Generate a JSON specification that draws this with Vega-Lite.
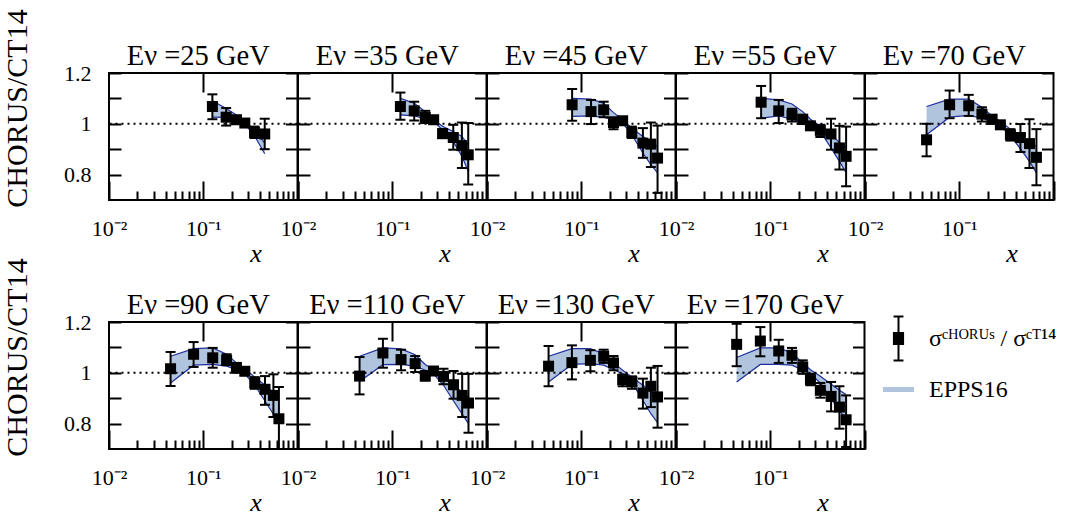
{
  "$schema": "https://vega.github.io/schema/vega-lite/v6.json",
  "padding": {"left": 2, "top": 9, "right": 0, "bottom": 0},
  "background": "white",
  "config": {
    "font": "Liberation Serif",
    "view": {"stroke": "black", "strokeWidth": 2},
    "axis": {"domain": false, "grid": false, "tickColor": "black", "tickWidth": 2, "labelFont": "Liberation Serif", "labelFontSize": 22, "labelColor": "black", "titleFont": "Liberation Serif", "titleFontWeight": "normal", "titleColor": "black", "labelFlush": false, "labelOverlap": false},
    "title": {"font": "Liberation Serif", "fontSize": 28.5, "fontWeight": "normal", "color": "black", "offset": 2, "baseline": "alphabetic", "frame": "group", "anchor": "middle", "dx": -5},
    "legend": {"labelFont": "Liberation Serif"}
  },
  "data": {"values": [
    {"E": 25, "x": 0.125, "y": 1.068, "el": 1.018, "eh": 1.116, "bl": 1.026, "bh": 1.091},
    {"E": 25, "x": 0.175, "y": 1.026, "el": 0.993, "eh": 1.062, "bl": 1.025, "bh": 1.060},
    {"E": 25, "x": 0.225, "y": 1.016, "el": 1.0, "eh": 1.031, "bl": 1.014, "bh": 1.035},
    {"E": 25, "x": 0.276, "y": 1.003, "el": 0.995, "eh": 1.011, "bl": 0.999, "bh": 1.009},
    {"E": 25, "x": 0.35, "y": 0.966, "el": 0.944, "eh": 0.989, "bl": 0.953, "bh": 0.976},
    {"E": 25, "x": 0.449, "y": 0.96, "el": 0.90, "eh": 1.02, "bl": 0.882, "bh": 0.924},

    {"E": 35, "x": 0.122, "y": 1.068, "el": 1.016, "eh": 1.123, "bl": 1.035, "bh": 1.10},
    {"E": 35, "x": 0.171, "y": 1.051, "el": 1.013, "eh": 1.087, "bl": 1.031, "bh": 1.081},
    {"E": 35, "x": 0.224, "y": 1.025, "el": 1.003, "eh": 1.051, "bl": 1.02, "bh": 1.048},
    {"E": 35, "x": 0.275, "y": 1.016, "el": 1.006, "eh": 1.026, "bl": 1.009, "bh": 1.016},
    {"E": 35, "x": 0.342, "y": 0.961, "el": 0.944, "eh": 0.979, "bl": 0.976, "bh": 0.99},
    {"E": 35, "x": 0.444, "y": 0.946, "el": 0.898, "eh": 0.996, "bl": 0.93, "bh": 0.97},
    {"E": 35, "x": 0.548, "y": 0.914, "el": 0.826, "eh": 1.005, "bl": 0.872, "bh": 0.95},
    {"E": 35, "x": 0.64, "y": 0.878, "el": 0.761, "eh": 1.003, "bl": 0.813, "bh": 0.918},

    {"E": 45, "x": 0.08, "y": 1.075, "el": 1.012, "eh": 1.137, "bl": 1.029, "bh": 1.10},
    {"E": 45, "x": 0.127, "y": 1.048, "el": 0.999, "eh": 1.094, "bl": 1.031, "bh": 1.097},
    {"E": 45, "x": 0.173, "y": 1.055, "el": 1.026, "eh": 1.087, "bl": 1.025, "bh": 1.081},
    {"E": 45, "x": 0.22, "y": 1.005, "el": 0.979, "eh": 1.026, "bl": 1.016, "bh": 1.044},
    {"E": 45, "x": 0.275, "y": 1.012, "el": 1.002, "eh": 1.022, "bl": 1.003, "bh": 1.016},
    {"E": 45, "x": 0.344, "y": 0.966, "el": 0.944, "eh": 0.989, "bl": 0.957, "bh": 0.983},
    {"E": 45, "x": 0.451, "y": 0.924, "el": 0.866, "eh": 0.983, "bl": 0.885, "bh": 0.95},
    {"E": 45, "x": 0.548, "y": 0.92, "el": 0.83, "eh": 1.005, "bl": 0.839, "bh": 0.93},
    {"E": 45, "x": 0.645, "y": 0.865, "el": 0.728, "eh": 0.993, "bl": 0.807, "bh": 0.911},

    {"E": 55, "x": 0.08, "y": 1.085, "el": 1.022, "eh": 1.149, "bl": 1.022, "bh": 1.10},
    {"E": 55, "x": 0.123, "y": 1.051, "el": 1.003, "eh": 1.094, "bl": 1.031, "bh": 1.094},
    {"E": 55, "x": 0.17, "y": 1.035, "el": 1.009, "eh": 1.059, "bl": 1.018, "bh": 1.078},
    {"E": 55, "x": 0.221, "y": 1.018, "el": 0.999, "eh": 1.035, "bl": 1.005, "bh": 1.048},
    {"E": 55, "x": 0.267, "y": 0.992, "el": 0.984, "eh": 1.0, "bl": 0.996, "bh": 1.018},
    {"E": 55, "x": 0.34, "y": 0.974, "el": 0.948, "eh": 0.996, "bl": 0.97, "bh": 0.989},
    {"E": 55, "x": 0.441, "y": 0.96, "el": 0.898, "eh": 1.02, "bl": 0.905, "bh": 0.957},
    {"E": 55, "x": 0.542, "y": 0.905, "el": 0.82, "eh": 0.992, "bl": 0.852, "bh": 0.927},
    {"E": 55, "x": 0.638, "y": 0.872, "el": 0.754, "eh": 0.989, "bl": 0.807, "bh": 0.905},

    {"E": 70, "x": 0.045, "y": 0.937, "el": 0.872, "eh": 1.0, "bl": 0.957, "bh": 1.068},
    {"E": 70, "x": 0.079, "y": 1.075, "el": 1.022, "eh": 1.131, "bl": 1.026, "bh": 1.097},
    {"E": 70, "x": 0.126, "y": 1.071, "el": 1.031, "eh": 1.114, "bl": 1.033, "bh": 1.097},
    {"E": 70, "x": 0.174, "y": 1.038, "el": 1.009, "eh": 1.065, "bl": 1.022, "bh": 1.065},
    {"E": 70, "x": 0.223, "y": 1.018, "el": 1.0, "eh": 1.035, "bl": 1.009, "bh": 1.031},
    {"E": 70, "x": 0.273, "y": 0.996, "el": 0.988, "eh": 1.004, "bl": 0.993, "bh": 1.009},
    {"E": 70, "x": 0.349, "y": 0.957, "el": 0.934, "eh": 0.979, "bl": 0.953, "bh": 0.979},
    {"E": 70, "x": 0.446, "y": 0.946, "el": 0.889, "eh": 0.999, "bl": 0.901, "bh": 0.953},
    {"E": 70, "x": 0.556, "y": 0.922, "el": 0.826, "eh": 1.018, "bl": 0.852, "bh": 0.93},
    {"E": 70, "x": 0.659, "y": 0.868, "el": 0.758, "eh": 0.979, "bl": 0.807, "bh": 0.911},

    {"E": 90, "x": 0.045, "y": 1.016, "el": 0.948, "eh": 1.082, "bl": 0.96, "bh": 1.065},
    {"E": 90, "x": 0.079, "y": 1.073, "el": 1.023, "eh": 1.121, "bl": 1.03, "bh": 1.095},
    {"E": 90, "x": 0.126, "y": 1.059, "el": 1.02, "eh": 1.098, "bl": 1.033, "bh": 1.098},
    {"E": 90, "x": 0.177, "y": 1.049, "el": 1.03, "eh": 1.073, "bl": 1.026, "bh": 1.073},
    {"E": 90, "x": 0.225, "y": 1.02, "el": 1.0, "eh": 1.039, "bl": 1.012, "bh": 1.039},
    {"E": 90, "x": 0.276, "y": 1.006, "el": 0.998, "eh": 1.014, "bl": 0.996, "bh": 1.016},
    {"E": 90, "x": 0.352, "y": 0.96, "el": 0.937, "eh": 0.983, "bl": 0.951, "bh": 0.983},
    {"E": 90, "x": 0.452, "y": 0.935, "el": 0.874, "eh": 0.987, "bl": 0.889, "bh": 0.951},
    {"E": 90, "x": 0.555, "y": 0.911, "el": 0.826, "eh": 0.994, "bl": 0.837, "bh": 0.924},
    {"E": 90, "x": 0.635, "y": 0.819, "el": 0.70, "eh": 0.944, "bl": 0.80, "bh": 0.902},

    {"E": 110, "x": 0.045, "y": 0.987, "el": 0.915, "eh": 1.062, "bl": 0.966, "bh": 1.065},
    {"E": 110, "x": 0.0796, "y": 1.078, "el": 1.02, "eh": 1.134, "bl": 1.032, "bh": 1.098},
    {"E": 110, "x": 0.124, "y": 1.052, "el": 1.01, "eh": 1.091, "bl": 1.033, "bh": 1.094},
    {"E": 110, "x": 0.175, "y": 1.036, "el": 1.003, "eh": 1.066, "bl": 1.026, "bh": 1.071},
    {"E": 110, "x": 0.224, "y": 0.987, "el": 0.97, "eh": 1.007, "bl": 1.01, "bh": 1.033},
    {"E": 110, "x": 0.274, "y": 1.007, "el": 0.998, "eh": 1.016, "bl": 0.996, "bh": 1.012},
    {"E": 110, "x": 0.35, "y": 0.986, "el": 0.955, "eh": 1.016, "bl": 0.951, "bh": 0.983},
    {"E": 110, "x": 0.447, "y": 0.953, "el": 0.898, "eh": 1.007, "bl": 0.889, "bh": 0.951},
    {"E": 110, "x": 0.552, "y": 0.911, "el": 0.826, "eh": 0.996, "bl": 0.837, "bh": 0.924},
    {"E": 110, "x": 0.644, "y": 0.881, "el": 0.764, "eh": 0.996, "bl": 0.80, "bh": 0.903},

    {"E": 130, "x": 0.045, "y": 1.026, "el": 0.947, "eh": 1.106, "bl": 0.964, "bh": 1.065},
    {"E": 130, "x": 0.0796, "y": 1.04, "el": 0.974, "eh": 1.108, "bl": 1.033, "bh": 1.095},
    {"E": 130, "x": 0.125, "y": 1.049, "el": 1.006, "eh": 1.089, "bl": 1.036, "bh": 1.095},
    {"E": 130, "x": 0.173, "y": 1.065, "el": 1.039, "eh": 1.091, "bl": 1.03, "bh": 1.075},
    {"E": 130, "x": 0.22, "y": 1.039, "el": 1.01, "eh": 1.066, "bl": 1.012, "bh": 1.039},
    {"E": 130, "x": 0.275, "y": 0.973, "el": 0.947, "eh": 0.993, "bl": 0.996, "bh": 1.01},
    {"E": 130, "x": 0.345, "y": 0.964, "el": 0.937, "eh": 0.986, "bl": 0.96, "bh": 0.983},
    {"E": 130, "x": 0.451, "y": 0.92, "el": 0.859, "eh": 0.977, "bl": 0.892, "bh": 0.951},
    {"E": 130, "x": 0.548, "y": 0.947, "el": 0.865, "eh": 1.02, "bl": 0.839, "bh": 0.927},
    {"E": 130, "x": 0.645, "y": 0.905, "el": 0.784, "eh": 1.027, "bl": 0.804, "bh": 0.905},

    {"E": 170, "x": 0.044, "y": 1.112, "el": 1.026, "eh": 1.193, "bl": 0.964, "bh": 1.06},
    {"E": 170, "x": 0.0785, "y": 1.125, "el": 1.065, "eh": 1.18, "bl": 1.033, "bh": 1.098},
    {"E": 170, "x": 0.123, "y": 1.086, "el": 1.039, "eh": 1.13, "bl": 1.033, "bh": 1.098},
    {"E": 170, "x": 0.17, "y": 1.069, "el": 1.039, "eh": 1.098, "bl": 1.03, "bh": 1.078},
    {"E": 170, "x": 0.221, "y": 1.023, "el": 0.996, "eh": 1.049, "bl": 1.01, "bh": 1.039},
    {"E": 170, "x": 0.267, "y": 0.973, "el": 0.951, "eh": 0.996, "bl": 0.996, "bh": 1.012},
    {"E": 170, "x": 0.34, "y": 0.931, "el": 0.902, "eh": 0.96, "bl": 0.96, "bh": 0.986},
    {"E": 170, "x": 0.442, "y": 0.907, "el": 0.848, "eh": 0.964, "bl": 0.898, "bh": 0.955},
    {"E": 170, "x": 0.542, "y": 0.865, "el": 0.78, "eh": 0.947, "bl": 0.852, "bh": 0.931},
    {"E": 170, "x": 0.638, "y": 0.815, "el": 0.708, "eh": 0.911, "bl": 0.815, "bh": 0.915}
  ]},
  "spacing": -9,
  "resolve": {"scale": {"color": "independent", "shape": "independent"}},
  "vconcat": [
    {"title": {"text": "CHORUS/CT14", "orient": "left", "anchor": "middle", "fontSize": 30, "offset": 30, "dx": -35.5, "dy": 0},
     "hconcat": [
      {"width": 188.5, "height": 127, "title": {"text": "Eν =25 GeV", "dy": 10}, "transform": [{"filter": "datum.E == 25"}], "resolve": {"axis": {"x": "independent", "y": "independent"}},
       "layer": [
        {"mark": {"type": "area", "color": "#b0c4de", "opacity": 1}, "encoding": {"x": {"field": "x", "type": "quantitative", "scale": {"type": "log", "domain": [0.01, 1]}, "axis": {"orient": "bottom", "values": [0.01, 0.1, 1], "tickSize": -19, "labelExpr": "datum.value < 0.05 ? '10⁻²' : datum.value < 0.5 ? '10⁻¹' : ''", "labelPadding": 37, "title": "x", "titleFontStyle": "italic", "titleFontSize": 26, "titleX": 146.5, "titleY": 61, "titleBaseline": "alphabetic", "titleAlign": "center"}}, "y": {"field": "bl", "type": "quantitative", "scale": {"domain": [0.7, 1.2]}, "axis": {"orient": "left", "values": [0.8, 0.9, 1, 1.1, 1.2], "tickSize": -12, "labelExpr": "datum.value == 0.8 ? '0.8' : datum.value == 1 ? '1' : datum.value == 1.2 ? '1.2' : ''", "labelPadding": 30, "title": null}}, "y2": {"field": "bh"}}},
        {"mark": {"type": "line", "color": "#1f2f9e", "strokeWidth": 1.2}, "encoding": {"x": {"field": "x", "type": "quantitative", "axis": {"orient": "bottom", "values": [0.02, 0.03, 0.04, 0.05, 0.06, 0.07, 0.08, 0.09, 0.2, 0.3, 0.4, 0.5, 0.6, 0.7, 0.8, 0.9], "tickSize": -9, "labels": false, "title": null}}, "y": {"field": "bl", "type": "quantitative", "axis": {"orient": "right", "values": [0.8, 0.9, 1, 1.1, 1.2], "tickSize": -12, "labels": false, "title": null}}}},
        {"mark": {"type": "line", "color": "#1f2f9e", "strokeWidth": 1.2}, "encoding": {"x": {"field": "x", "type": "quantitative", "axis": {"orient": "top", "values": [0.1], "tickSize": -19, "labels": false, "title": null}}, "y": {"field": "bh", "type": "quantitative", "axis": null}}},
        {"data": {"values": [{"ref": 1}]}, "mark": {"type": "rule", "color": "black", "strokeWidth": 2, "strokeDash": [2, 4]}, "encoding": {"y": {"field": "ref", "type": "quantitative", "axis": null}}},
        {"mark": {"type": "rule", "color": "black", "strokeWidth": 2}, "encoding": {"x": {"field": "x", "type": "quantitative", "axis": null}, "y": {"field": "el", "type": "quantitative", "axis": null}, "y2": {"field": "eh"}}},
        {"mark": {"type": "tick", "orient": "horizontal", "color": "black", "size": 10, "thickness": 2, "opacity": 1}, "encoding": {"x": {"field": "x", "type": "quantitative", "axis": null}, "y": {"field": "el", "type": "quantitative", "axis": null}}},
        {"mark": {"type": "tick", "orient": "horizontal", "color": "black", "size": 10, "thickness": 2, "opacity": 1}, "encoding": {"x": {"field": "x", "type": "quantitative", "axis": null}, "y": {"field": "eh", "type": "quantitative", "axis": null}}},
        {"mark": {"type": "square", "color": "black", "size": 121, "opacity": 1}, "encoding": {"x": {"field": "x", "type": "quantitative", "axis": null}, "y": {"field": "y", "type": "quantitative", "axis": null}}}
       ]},
      {"width": 188.5, "height": 127, "title": "Eν =35 GeV", "transform": [{"filter": "datum.E == 35"}], "resolve": {"axis": {"x": "independent", "y": "independent"}},
       "layer": [
        {"mark": {"type": "area", "color": "#b0c4de", "opacity": 1}, "encoding": {"x": {"field": "x", "type": "quantitative", "scale": {"type": "log", "domain": [0.01, 1]}, "axis": {"orient": "bottom", "values": [0.01, 0.1, 1], "tickSize": -19, "labelExpr": "datum.value < 0.05 ? '10⁻²' : datum.value < 0.5 ? '10⁻¹' : ''", "labelPadding": 37, "title": "x", "titleFontStyle": "italic", "titleFontSize": 26, "titleX": 146.5, "titleY": 61, "titleBaseline": "alphabetic", "titleAlign": "center"}}, "y": {"field": "bl", "type": "quantitative", "scale": {"domain": [0.7, 1.2]}, "axis": {"orient": "left", "values": [0.8, 0.9, 1, 1.1, 1.2], "tickSize": -12, "labels": false, "title": null}}, "y2": {"field": "bh"}}},
        {"mark": {"type": "line", "color": "#1f2f9e", "strokeWidth": 1.2}, "encoding": {"x": {"field": "x", "type": "quantitative", "axis": {"orient": "bottom", "values": [0.02, 0.03, 0.04, 0.05, 0.06, 0.07, 0.08, 0.09, 0.2, 0.3, 0.4, 0.5, 0.6, 0.7, 0.8, 0.9], "tickSize": -9, "labels": false, "title": null}}, "y": {"field": "bl", "type": "quantitative", "axis": {"orient": "right", "values": [0.8, 0.9, 1, 1.1, 1.2], "tickSize": -12, "labels": false, "title": null}}}},
        {"mark": {"type": "line", "color": "#1f2f9e", "strokeWidth": 1.2}, "encoding": {"x": {"field": "x", "type": "quantitative", "axis": {"orient": "top", "values": [0.1], "tickSize": -19, "labels": false, "title": null}}, "y": {"field": "bh", "type": "quantitative", "axis": null}}},
        {"data": {"values": [{"ref": 1}]}, "mark": {"type": "rule", "color": "black", "strokeWidth": 2, "strokeDash": [2, 4]}, "encoding": {"y": {"field": "ref", "type": "quantitative", "axis": null}}},
        {"mark": {"type": "rule", "color": "black", "strokeWidth": 2}, "encoding": {"x": {"field": "x", "type": "quantitative", "axis": null}, "y": {"field": "el", "type": "quantitative", "axis": null}, "y2": {"field": "eh"}}},
        {"mark": {"type": "tick", "orient": "horizontal", "color": "black", "size": 10, "thickness": 2, "opacity": 1}, "encoding": {"x": {"field": "x", "type": "quantitative", "axis": null}, "y": {"field": "el", "type": "quantitative", "axis": null}}},
        {"mark": {"type": "tick", "orient": "horizontal", "color": "black", "size": 10, "thickness": 2, "opacity": 1}, "encoding": {"x": {"field": "x", "type": "quantitative", "axis": null}, "y": {"field": "eh", "type": "quantitative", "axis": null}}},
        {"mark": {"type": "square", "color": "black", "size": 121, "opacity": 1}, "encoding": {"x": {"field": "x", "type": "quantitative", "axis": null}, "y": {"field": "y", "type": "quantitative", "axis": null}}}
       ]},
      {"width": 188.5, "height": 127, "title": "Eν =45 GeV", "transform": [{"filter": "datum.E == 45"}], "resolve": {"axis": {"x": "independent", "y": "independent"}},
       "layer": [
        {"mark": {"type": "area", "color": "#b0c4de", "opacity": 1}, "encoding": {"x": {"field": "x", "type": "quantitative", "scale": {"type": "log", "domain": [0.01, 1]}, "axis": {"orient": "bottom", "values": [0.01, 0.1, 1], "tickSize": -19, "labelExpr": "datum.value < 0.05 ? '10⁻²' : datum.value < 0.5 ? '10⁻¹' : ''", "labelPadding": 37, "title": "x", "titleFontStyle": "italic", "titleFontSize": 26, "titleX": 146.5, "titleY": 61, "titleBaseline": "alphabetic", "titleAlign": "center"}}, "y": {"field": "bl", "type": "quantitative", "scale": {"domain": [0.7, 1.2]}, "axis": {"orient": "left", "values": [0.8, 0.9, 1, 1.1, 1.2], "tickSize": -12, "labels": false, "title": null}}, "y2": {"field": "bh"}}},
        {"mark": {"type": "line", "color": "#1f2f9e", "strokeWidth": 1.2}, "encoding": {"x": {"field": "x", "type": "quantitative", "axis": {"orient": "bottom", "values": [0.02, 0.03, 0.04, 0.05, 0.06, 0.07, 0.08, 0.09, 0.2, 0.3, 0.4, 0.5, 0.6, 0.7, 0.8, 0.9], "tickSize": -9, "labels": false, "title": null}}, "y": {"field": "bl", "type": "quantitative", "axis": {"orient": "right", "values": [0.8, 0.9, 1, 1.1, 1.2], "tickSize": -12, "labels": false, "title": null}}}},
        {"mark": {"type": "line", "color": "#1f2f9e", "strokeWidth": 1.2}, "encoding": {"x": {"field": "x", "type": "quantitative", "axis": {"orient": "top", "values": [0.1], "tickSize": -19, "labels": false, "title": null}}, "y": {"field": "bh", "type": "quantitative", "axis": null}}},
        {"data": {"values": [{"ref": 1}]}, "mark": {"type": "rule", "color": "black", "strokeWidth": 2, "strokeDash": [2, 4]}, "encoding": {"y": {"field": "ref", "type": "quantitative", "axis": null}}},
        {"mark": {"type": "rule", "color": "black", "strokeWidth": 2}, "encoding": {"x": {"field": "x", "type": "quantitative", "axis": null}, "y": {"field": "el", "type": "quantitative", "axis": null}, "y2": {"field": "eh"}}},
        {"mark": {"type": "tick", "orient": "horizontal", "color": "black", "size": 10, "thickness": 2, "opacity": 1}, "encoding": {"x": {"field": "x", "type": "quantitative", "axis": null}, "y": {"field": "el", "type": "quantitative", "axis": null}}},
        {"mark": {"type": "tick", "orient": "horizontal", "color": "black", "size": 10, "thickness": 2, "opacity": 1}, "encoding": {"x": {"field": "x", "type": "quantitative", "axis": null}, "y": {"field": "eh", "type": "quantitative", "axis": null}}},
        {"mark": {"type": "square", "color": "black", "size": 121, "opacity": 1}, "encoding": {"x": {"field": "x", "type": "quantitative", "axis": null}, "y": {"field": "y", "type": "quantitative", "axis": null}}}
       ]},
      {"width": 188.5, "height": 127, "title": "Eν =55 GeV", "transform": [{"filter": "datum.E == 55"}], "resolve": {"axis": {"x": "independent", "y": "independent"}},
       "layer": [
        {"mark": {"type": "area", "color": "#b0c4de", "opacity": 1}, "encoding": {"x": {"field": "x", "type": "quantitative", "scale": {"type": "log", "domain": [0.01, 1]}, "axis": {"orient": "bottom", "values": [0.01, 0.1, 1], "tickSize": -19, "labelExpr": "datum.value < 0.05 ? '10⁻²' : datum.value < 0.5 ? '10⁻¹' : ''", "labelPadding": 37, "title": "x", "titleFontStyle": "italic", "titleFontSize": 26, "titleX": 146.5, "titleY": 61, "titleBaseline": "alphabetic", "titleAlign": "center"}}, "y": {"field": "bl", "type": "quantitative", "scale": {"domain": [0.7, 1.2]}, "axis": {"orient": "left", "values": [0.8, 0.9, 1, 1.1, 1.2], "tickSize": -12, "labels": false, "title": null}}, "y2": {"field": "bh"}}},
        {"mark": {"type": "line", "color": "#1f2f9e", "strokeWidth": 1.2}, "encoding": {"x": {"field": "x", "type": "quantitative", "axis": {"orient": "bottom", "values": [0.02, 0.03, 0.04, 0.05, 0.06, 0.07, 0.08, 0.09, 0.2, 0.3, 0.4, 0.5, 0.6, 0.7, 0.8, 0.9], "tickSize": -9, "labels": false, "title": null}}, "y": {"field": "bl", "type": "quantitative", "axis": {"orient": "right", "values": [0.8, 0.9, 1, 1.1, 1.2], "tickSize": -12, "labels": false, "title": null}}}},
        {"mark": {"type": "line", "color": "#1f2f9e", "strokeWidth": 1.2}, "encoding": {"x": {"field": "x", "type": "quantitative", "axis": {"orient": "top", "values": [0.1], "tickSize": -19, "labels": false, "title": null}}, "y": {"field": "bh", "type": "quantitative", "axis": null}}},
        {"data": {"values": [{"ref": 1}]}, "mark": {"type": "rule", "color": "black", "strokeWidth": 2, "strokeDash": [2, 4]}, "encoding": {"y": {"field": "ref", "type": "quantitative", "axis": null}}},
        {"mark": {"type": "rule", "color": "black", "strokeWidth": 2}, "encoding": {"x": {"field": "x", "type": "quantitative", "axis": null}, "y": {"field": "el", "type": "quantitative", "axis": null}, "y2": {"field": "eh"}}},
        {"mark": {"type": "tick", "orient": "horizontal", "color": "black", "size": 10, "thickness": 2, "opacity": 1}, "encoding": {"x": {"field": "x", "type": "quantitative", "axis": null}, "y": {"field": "el", "type": "quantitative", "axis": null}}},
        {"mark": {"type": "tick", "orient": "horizontal", "color": "black", "size": 10, "thickness": 2, "opacity": 1}, "encoding": {"x": {"field": "x", "type": "quantitative", "axis": null}, "y": {"field": "eh", "type": "quantitative", "axis": null}}},
        {"mark": {"type": "square", "color": "black", "size": 121, "opacity": 1}, "encoding": {"x": {"field": "x", "type": "quantitative", "axis": null}, "y": {"field": "y", "type": "quantitative", "axis": null}}}
       ]},
      {"width": 188.5, "height": 127, "title": "Eν =70 GeV", "transform": [{"filter": "datum.E == 70"}], "resolve": {"axis": {"x": "independent", "y": "independent"}},
       "layer": [
        {"mark": {"type": "area", "color": "#b0c4de", "opacity": 1}, "encoding": {"x": {"field": "x", "type": "quantitative", "scale": {"type": "log", "domain": [0.01, 1]}, "axis": {"orient": "bottom", "values": [0.01, 0.1, 1], "tickSize": -19, "labelExpr": "datum.value < 0.05 ? '10⁻²' : datum.value < 0.5 ? '10⁻¹' : ''", "labelPadding": 37, "title": "x", "titleFontStyle": "italic", "titleFontSize": 26, "titleX": 146.5, "titleY": 61, "titleBaseline": "alphabetic", "titleAlign": "center"}}, "y": {"field": "bl", "type": "quantitative", "scale": {"domain": [0.7, 1.2]}, "axis": {"orient": "left", "values": [0.8, 0.9, 1, 1.1, 1.2], "tickSize": -12, "labels": false, "title": null}}, "y2": {"field": "bh"}}},
        {"mark": {"type": "line", "color": "#1f2f9e", "strokeWidth": 1.2}, "encoding": {"x": {"field": "x", "type": "quantitative", "axis": {"orient": "bottom", "values": [0.02, 0.03, 0.04, 0.05, 0.06, 0.07, 0.08, 0.09, 0.2, 0.3, 0.4, 0.5, 0.6, 0.7, 0.8, 0.9], "tickSize": -9, "labels": false, "title": null}}, "y": {"field": "bl", "type": "quantitative", "axis": {"orient": "right", "values": [0.8, 0.9, 1, 1.1, 1.2], "tickSize": -12, "labels": false, "title": null}}}},
        {"mark": {"type": "line", "color": "#1f2f9e", "strokeWidth": 1.2}, "encoding": {"x": {"field": "x", "type": "quantitative", "axis": {"orient": "top", "values": [0.1], "tickSize": -19, "labels": false, "title": null}}, "y": {"field": "bh", "type": "quantitative", "axis": null}}},
        {"data": {"values": [{"ref": 1}]}, "mark": {"type": "rule", "color": "black", "strokeWidth": 2, "strokeDash": [2, 4]}, "encoding": {"y": {"field": "ref", "type": "quantitative", "axis": null}}},
        {"mark": {"type": "rule", "color": "black", "strokeWidth": 2}, "encoding": {"x": {"field": "x", "type": "quantitative", "axis": null}, "y": {"field": "el", "type": "quantitative", "axis": null}, "y2": {"field": "eh"}}},
        {"mark": {"type": "tick", "orient": "horizontal", "color": "black", "size": 10, "thickness": 2, "opacity": 1}, "encoding": {"x": {"field": "x", "type": "quantitative", "axis": null}, "y": {"field": "el", "type": "quantitative", "axis": null}}},
        {"mark": {"type": "tick", "orient": "horizontal", "color": "black", "size": 10, "thickness": 2, "opacity": 1}, "encoding": {"x": {"field": "x", "type": "quantitative", "axis": null}, "y": {"field": "eh", "type": "quantitative", "axis": null}}},
        {"mark": {"type": "square", "color": "black", "size": 121, "opacity": 1}, "encoding": {"x": {"field": "x", "type": "quantitative", "axis": null}, "y": {"field": "y", "type": "quantitative", "axis": null}}}
       ]}
    ], "spacing": 0, "bounds": "flush"},
    {"title": {"text": "CHORUS/CT14", "orient": "left", "anchor": "middle", "fontSize": 30, "offset": 30, "dx": -35.5, "dy": 0},
     "resolve": {"scale": {"color": "independent", "shape": "independent"}},
     "hconcat": [
      {"width": 188.5, "height": 127, "title": {"text": "Eν =90 GeV", "dy": 10}, "transform": [{"filter": "datum.E == 90"}], "resolve": {"axis": {"x": "independent", "y": "independent"}},
       "layer": [
        {"mark": {"type": "area", "color": "#b0c4de", "opacity": 1}, "encoding": {"x": {"field": "x", "type": "quantitative", "scale": {"type": "log", "domain": [0.01, 1]}, "axis": {"orient": "bottom", "values": [0.01, 0.1, 1], "tickSize": -19, "labelExpr": "datum.value < 0.05 ? '10⁻²' : datum.value < 0.5 ? '10⁻¹' : ''", "labelPadding": 37, "title": "x", "titleFontStyle": "italic", "titleFontSize": 26, "titleX": 146.5, "titleY": 61, "titleBaseline": "alphabetic", "titleAlign": "center"}}, "y": {"field": "bl", "type": "quantitative", "scale": {"domain": [0.7, 1.2]}, "axis": {"orient": "left", "values": [0.8, 0.9, 1, 1.1, 1.2], "tickSize": -12, "labelExpr": "datum.value == 0.8 ? '0.8' : datum.value == 1 ? '1' : datum.value == 1.2 ? '1.2' : ''", "labelPadding": 30, "title": null}}, "y2": {"field": "bh"}}},
        {"mark": {"type": "line", "color": "#1f2f9e", "strokeWidth": 1.2}, "encoding": {"x": {"field": "x", "type": "quantitative", "axis": {"orient": "bottom", "values": [0.02, 0.03, 0.04, 0.05, 0.06, 0.07, 0.08, 0.09, 0.2, 0.3, 0.4, 0.5, 0.6, 0.7, 0.8, 0.9], "tickSize": -9, "labels": false, "title": null}}, "y": {"field": "bl", "type": "quantitative", "axis": {"orient": "right", "values": [0.8, 0.9, 1, 1.1, 1.2], "tickSize": -12, "labels": false, "title": null}}}},
        {"mark": {"type": "line", "color": "#1f2f9e", "strokeWidth": 1.2}, "encoding": {"x": {"field": "x", "type": "quantitative", "axis": {"orient": "top", "values": [0.1], "tickSize": -19, "labels": false, "title": null}}, "y": {"field": "bh", "type": "quantitative", "axis": null}}},
        {"data": {"values": [{"ref": 1}]}, "mark": {"type": "rule", "color": "black", "strokeWidth": 2, "strokeDash": [2, 4]}, "encoding": {"y": {"field": "ref", "type": "quantitative", "axis": null}}},
        {"mark": {"type": "rule", "color": "black", "strokeWidth": 2}, "encoding": {"x": {"field": "x", "type": "quantitative", "axis": null}, "y": {"field": "el", "type": "quantitative", "axis": null}, "y2": {"field": "eh"}}},
        {"mark": {"type": "tick", "orient": "horizontal", "color": "black", "size": 10, "thickness": 2, "opacity": 1}, "encoding": {"x": {"field": "x", "type": "quantitative", "axis": null}, "y": {"field": "el", "type": "quantitative", "axis": null}}},
        {"mark": {"type": "tick", "orient": "horizontal", "color": "black", "size": 10, "thickness": 2, "opacity": 1}, "encoding": {"x": {"field": "x", "type": "quantitative", "axis": null}, "y": {"field": "eh", "type": "quantitative", "axis": null}}},
        {"mark": {"type": "square", "color": "black", "size": 121, "opacity": 1}, "encoding": {"x": {"field": "x", "type": "quantitative", "axis": null}, "y": {"field": "y", "type": "quantitative", "axis": null}}}
       ]},
      {"width": 188.5, "height": 127, "title": "Eν =110 GeV", "transform": [{"filter": "datum.E == 110"}], "resolve": {"axis": {"x": "independent", "y": "independent"}},
       "layer": [
        {"mark": {"type": "area", "color": "#b0c4de", "opacity": 1}, "encoding": {"x": {"field": "x", "type": "quantitative", "scale": {"type": "log", "domain": [0.01, 1]}, "axis": {"orient": "bottom", "values": [0.01, 0.1, 1], "tickSize": -19, "labelExpr": "datum.value < 0.05 ? '10⁻²' : datum.value < 0.5 ? '10⁻¹' : ''", "labelPadding": 37, "title": "x", "titleFontStyle": "italic", "titleFontSize": 26, "titleX": 146.5, "titleY": 61, "titleBaseline": "alphabetic", "titleAlign": "center"}}, "y": {"field": "bl", "type": "quantitative", "scale": {"domain": [0.7, 1.2]}, "axis": {"orient": "left", "values": [0.8, 0.9, 1, 1.1, 1.2], "tickSize": -12, "labels": false, "title": null}}, "y2": {"field": "bh"}}},
        {"mark": {"type": "line", "color": "#1f2f9e", "strokeWidth": 1.2}, "encoding": {"x": {"field": "x", "type": "quantitative", "axis": {"orient": "bottom", "values": [0.02, 0.03, 0.04, 0.05, 0.06, 0.07, 0.08, 0.09, 0.2, 0.3, 0.4, 0.5, 0.6, 0.7, 0.8, 0.9], "tickSize": -9, "labels": false, "title": null}}, "y": {"field": "bl", "type": "quantitative", "axis": {"orient": "right", "values": [0.8, 0.9, 1, 1.1, 1.2], "tickSize": -12, "labels": false, "title": null}}}},
        {"mark": {"type": "line", "color": "#1f2f9e", "strokeWidth": 1.2}, "encoding": {"x": {"field": "x", "type": "quantitative", "axis": {"orient": "top", "values": [0.1], "tickSize": -19, "labels": false, "title": null}}, "y": {"field": "bh", "type": "quantitative", "axis": null}}},
        {"data": {"values": [{"ref": 1}]}, "mark": {"type": "rule", "color": "black", "strokeWidth": 2, "strokeDash": [2, 4]}, "encoding": {"y": {"field": "ref", "type": "quantitative", "axis": null}}},
        {"mark": {"type": "rule", "color": "black", "strokeWidth": 2}, "encoding": {"x": {"field": "x", "type": "quantitative", "axis": null}, "y": {"field": "el", "type": "quantitative", "axis": null}, "y2": {"field": "eh"}}},
        {"mark": {"type": "tick", "orient": "horizontal", "color": "black", "size": 10, "thickness": 2, "opacity": 1}, "encoding": {"x": {"field": "x", "type": "quantitative", "axis": null}, "y": {"field": "el", "type": "quantitative", "axis": null}}},
        {"mark": {"type": "tick", "orient": "horizontal", "color": "black", "size": 10, "thickness": 2, "opacity": 1}, "encoding": {"x": {"field": "x", "type": "quantitative", "axis": null}, "y": {"field": "eh", "type": "quantitative", "axis": null}}},
        {"mark": {"type": "square", "color": "black", "size": 121, "opacity": 1}, "encoding": {"x": {"field": "x", "type": "quantitative", "axis": null}, "y": {"field": "y", "type": "quantitative", "axis": null}}}
       ]},
      {"width": 188.5, "height": 127, "title": "Eν =130 GeV", "transform": [{"filter": "datum.E == 130"}], "resolve": {"axis": {"x": "independent", "y": "independent"}},
       "layer": [
        {"mark": {"type": "area", "color": "#b0c4de", "opacity": 1}, "encoding": {"x": {"field": "x", "type": "quantitative", "scale": {"type": "log", "domain": [0.01, 1]}, "axis": {"orient": "bottom", "values": [0.01, 0.1, 1], "tickSize": -19, "labelExpr": "datum.value < 0.05 ? '10⁻²' : datum.value < 0.5 ? '10⁻¹' : ''", "labelPadding": 37, "title": "x", "titleFontStyle": "italic", "titleFontSize": 26, "titleX": 146.5, "titleY": 61, "titleBaseline": "alphabetic", "titleAlign": "center"}}, "y": {"field": "bl", "type": "quantitative", "scale": {"domain": [0.7, 1.2]}, "axis": {"orient": "left", "values": [0.8, 0.9, 1, 1.1, 1.2], "tickSize": -12, "labels": false, "title": null}}, "y2": {"field": "bh"}}},
        {"mark": {"type": "line", "color": "#1f2f9e", "strokeWidth": 1.2}, "encoding": {"x": {"field": "x", "type": "quantitative", "axis": {"orient": "bottom", "values": [0.02, 0.03, 0.04, 0.05, 0.06, 0.07, 0.08, 0.09, 0.2, 0.3, 0.4, 0.5, 0.6, 0.7, 0.8, 0.9], "tickSize": -9, "labels": false, "title": null}}, "y": {"field": "bl", "type": "quantitative", "axis": {"orient": "right", "values": [0.8, 0.9, 1, 1.1, 1.2], "tickSize": -12, "labels": false, "title": null}}}},
        {"mark": {"type": "line", "color": "#1f2f9e", "strokeWidth": 1.2}, "encoding": {"x": {"field": "x", "type": "quantitative", "axis": {"orient": "top", "values": [0.1], "tickSize": -19, "labels": false, "title": null}}, "y": {"field": "bh", "type": "quantitative", "axis": null}}},
        {"data": {"values": [{"ref": 1}]}, "mark": {"type": "rule", "color": "black", "strokeWidth": 2, "strokeDash": [2, 4]}, "encoding": {"y": {"field": "ref", "type": "quantitative", "axis": null}}},
        {"mark": {"type": "rule", "color": "black", "strokeWidth": 2}, "encoding": {"x": {"field": "x", "type": "quantitative", "axis": null}, "y": {"field": "el", "type": "quantitative", "axis": null}, "y2": {"field": "eh"}}},
        {"mark": {"type": "tick", "orient": "horizontal", "color": "black", "size": 10, "thickness": 2, "opacity": 1}, "encoding": {"x": {"field": "x", "type": "quantitative", "axis": null}, "y": {"field": "el", "type": "quantitative", "axis": null}}},
        {"mark": {"type": "tick", "orient": "horizontal", "color": "black", "size": 10, "thickness": 2, "opacity": 1}, "encoding": {"x": {"field": "x", "type": "quantitative", "axis": null}, "y": {"field": "eh", "type": "quantitative", "axis": null}}},
        {"mark": {"type": "square", "color": "black", "size": 121, "opacity": 1}, "encoding": {"x": {"field": "x", "type": "quantitative", "axis": null}, "y": {"field": "y", "type": "quantitative", "axis": null}}}
       ]},
      {"width": 188.5, "height": 127, "title": "Eν =170 GeV", "transform": [{"filter": "datum.E == 170"}], "resolve": {"axis": {"x": "independent", "y": "independent"}},
       "layer": [
        {"mark": {"type": "area", "color": "#b0c4de", "opacity": 1}, "encoding": {"x": {"field": "x", "type": "quantitative", "scale": {"type": "log", "domain": [0.01, 1]}, "axis": {"orient": "bottom", "values": [0.01, 0.1, 1], "tickSize": -19, "labelExpr": "datum.value < 0.05 ? '10⁻²' : datum.value < 0.5 ? '10⁻¹' : ''", "labelPadding": 37, "title": "x", "titleFontStyle": "italic", "titleFontSize": 26, "titleX": 146.5, "titleY": 61, "titleBaseline": "alphabetic", "titleAlign": "center"}}, "y": {"field": "bl", "type": "quantitative", "scale": {"domain": [0.7, 1.2]}, "axis": {"orient": "left", "values": [0.8, 0.9, 1, 1.1, 1.2], "tickSize": -12, "labels": false, "title": null}}, "y2": {"field": "bh"}}},
        {"mark": {"type": "line", "color": "#1f2f9e", "strokeWidth": 1.2}, "encoding": {"x": {"field": "x", "type": "quantitative", "axis": {"orient": "bottom", "values": [0.02, 0.03, 0.04, 0.05, 0.06, 0.07, 0.08, 0.09, 0.2, 0.3, 0.4, 0.5, 0.6, 0.7, 0.8, 0.9], "tickSize": -9, "labels": false, "title": null}}, "y": {"field": "bl", "type": "quantitative", "axis": {"orient": "right", "values": [0.8, 0.9, 1, 1.1, 1.2], "tickSize": -12, "labels": false, "title": null}}}},
        {"mark": {"type": "line", "color": "#1f2f9e", "strokeWidth": 1.2}, "encoding": {"x": {"field": "x", "type": "quantitative", "axis": {"orient": "top", "values": [0.1], "tickSize": -19, "labels": false, "title": null}}, "y": {"field": "bh", "type": "quantitative", "axis": null}}},
        {"data": {"values": [{"ref": 1}]}, "mark": {"type": "rule", "color": "black", "strokeWidth": 2, "strokeDash": [2, 4]}, "encoding": {"y": {"field": "ref", "type": "quantitative", "axis": null}}},
        {"mark": {"type": "rule", "color": "black", "strokeWidth": 2}, "encoding": {"x": {"field": "x", "type": "quantitative", "axis": null}, "y": {"field": "el", "type": "quantitative", "axis": null}, "y2": {"field": "eh"}}},
        {"mark": {"type": "tick", "orient": "horizontal", "color": "black", "size": 10, "thickness": 2, "opacity": 1}, "encoding": {"x": {"field": "x", "type": "quantitative", "axis": null}, "y": {"field": "el", "type": "quantitative", "axis": null}}},
        {"mark": {"type": "tick", "orient": "horizontal", "color": "black", "size": 10, "thickness": 2, "opacity": 1}, "encoding": {"x": {"field": "x", "type": "quantitative", "axis": null}, "y": {"field": "eh", "type": "quantitative", "axis": null}}},
        {"mark": {"type": "square", "color": "black", "size": 121, "opacity": 1}, "encoding": {"x": {"field": "x", "type": "quantitative", "axis": null}, "y": {"field": "y", "type": "quantitative", "axis": null}}},
        {"mark": {"type": "point", "filled": false, "opacity": 0}, "encoding": {"x": {"field": "x", "type": "quantitative", "axis": null}, "y": {"field": "y", "type": "quantitative", "axis": null},
          "color": {"datum": "σᶜᴴᴼᴿᵁˢ / σᶜᵀ¹⁴", "type": "nominal", "scale": {"domain": ["σᶜᴴᴼᴿᵁˢ / σᶜᵀ¹⁴", "EPPS16"], "range": ["black", "#b0c4de"]},
            "legend": {"title": null, "orient": "right", "offset": 16, "symbolSize": 961, "symbolOpacity": 1, "symbolStrokeWidth": 2, "labelFontSize": 24, "labelColor": "black", "labelOffset": 14, "labelLimit": 400, "rowPadding": 8}},
          "shape": {"datum": "σᶜᴴᴼᴿᵁˢ / σᶜᵀ¹⁴", "type": "nominal", "scale": {"domain": ["σᶜᴴᴼᴿᵁˢ / σᶜᵀ¹⁴", "EPPS16"], "range": ["M0,-1.42V1.42M-0.32,-1.42H0.32M-0.32,1.42H0.32M-0.36,-0.36H0.36M-0.36,-0.24H0.36M-0.36,-0.12H0.36M-0.36,0H0.36M-0.36,0.12H0.36M-0.36,0.24H0.36M-0.36,0.36H0.36", "M-1,-0.1H1M-1,0H1M-1,0.1H1"]},
            "legend": {"title": null, "orient": "right", "offset": 16, "symbolSize": 961, "symbolOpacity": 1, "symbolStrokeWidth": 2, "labelFontSize": 24, "labelColor": "black", "labelOffset": 14, "labelLimit": 400, "rowPadding": 8}}}}
       ]}
    ], "spacing": 0, "bounds": "flush"}
  ]
}
